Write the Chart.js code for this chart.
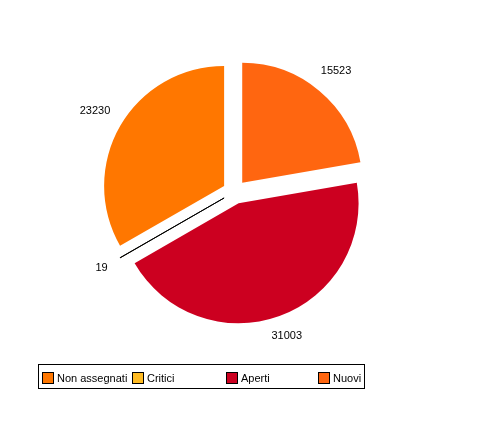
<!DOCTYPE html>
<html>
<head>
<meta charset="utf-8">
<script src="https://cdn.jsdelivr.net/npm/chart.js@4/dist/chart.umd.min.js"></script>
<style>
  html, body { margin: 0; padding: 0; background: #fff; }
  canvas { display: block; }
</style>
</head>
<body>
<canvas id="pieChart" width="491" height="435"></canvas>
<script>
// legend order
const categories = ['Non assegnati', 'Critici', 'Aperti', 'Nuovi'];
const values = [23230, 19, 31003, 15523];
const colors = ['#FF7700', '#FFBB22', '#CC0020', '#FF6610'];

// the original draws its slices counter-clockwise from the top
const pieLabels = categories.slice().reverse();
const pieValues = values.slice().reverse();
const pieColors = colors.slice().reverse();

const EXPLODE = 12;
const FONT = '11px "Liberation Sans", Arial, sans-serif';

const explodePlugin = {
    id: 'explode',
    afterDatasetsUpdate(chart) {
        const meta = chart.getDatasetMeta(0);
        meta.data.forEach(arc => {
            const mid = (arc.startAngle + arc.endAngle) / 2;
            arc.cx = arc.x;
            arc.cy = arc.y;
            arc.x += Math.cos(mid) * EXPLODE;
            arc.y += Math.sin(mid) * EXPLODE;
        });
    }
};

const valueLabels = {
    id: 'valueLabels',
    afterDatasetsDraw(chart) {
        const ctx = chart.ctx;
        const meta = chart.getDatasetMeta(0);
        ctx.save();
        ctx.font = FONT;
        ctx.fillStyle = '#000';
        ctx.textAlign = 'center';
        ctx.textBaseline = 'middle';
        meta.data.forEach((arc, i) => {
            const mid = (arc.startAngle + arc.endAngle) / 2;
            const txt = String(pieValues[i]);
            const half = ctx.measureText(txt).width / 2;
            const r = 148 + half * Math.abs(Math.cos(mid));
            ctx.fillText(txt, arc.cx + Math.cos(mid) * r, arc.cy + Math.sin(mid) * r);
        });
        ctx.restore();
    }
};

const boxLegend = {
    id: 'boxLegend',
    afterDraw(chart) {
        const ctx = chart.ctx;
        const cols = [42, 132, 226, 318];
        ctx.save();
        ctx.strokeStyle = '#000';
        ctx.lineWidth = 1;
        ctx.strokeRect(38.5, 364.5, 326, 24);
        ctx.font = FONT;
        ctx.textBaseline = 'middle';
        ctx.textAlign = 'left';
        categories.forEach((name, i) => {
            const x = cols[i];
            ctx.fillStyle = colors[i];
            ctx.fillRect(x, 372, 12, 12);
            ctx.strokeRect(x + 0.5, 372.5, 11, 11);
            ctx.fillStyle = '#000';
            ctx.fillText(name, x + 15, 378.5);
        });
        ctx.restore();
    }
};

new Chart(document.getElementById('pieChart').getContext('2d'), {
    type: 'pie',
    data: {
        labels: pieLabels,
        datasets: [{
            data: pieValues,
            backgroundColor: pieColors,
            borderColor: pieLabels.map(l => l === 'Critici' ? '#000' : 'rgba(0,0,0,0)'),
            borderWidth: pieLabels.map(l => l === 'Critici' ? 1 : 0),
        }]
    },
    options: {
        responsive: false,
        animation: false,
        radius: 120,
        layout: { padding: { left: 0, right: 22, top: 0, bottom: 51 } },
        plugins: {
            legend: { display: false },
            tooltip: { enabled: false }
        },
        events: []
    },
    plugins: [explodePlugin, valueLabels, boxLegend]
});
</script>
</body>
</html>
